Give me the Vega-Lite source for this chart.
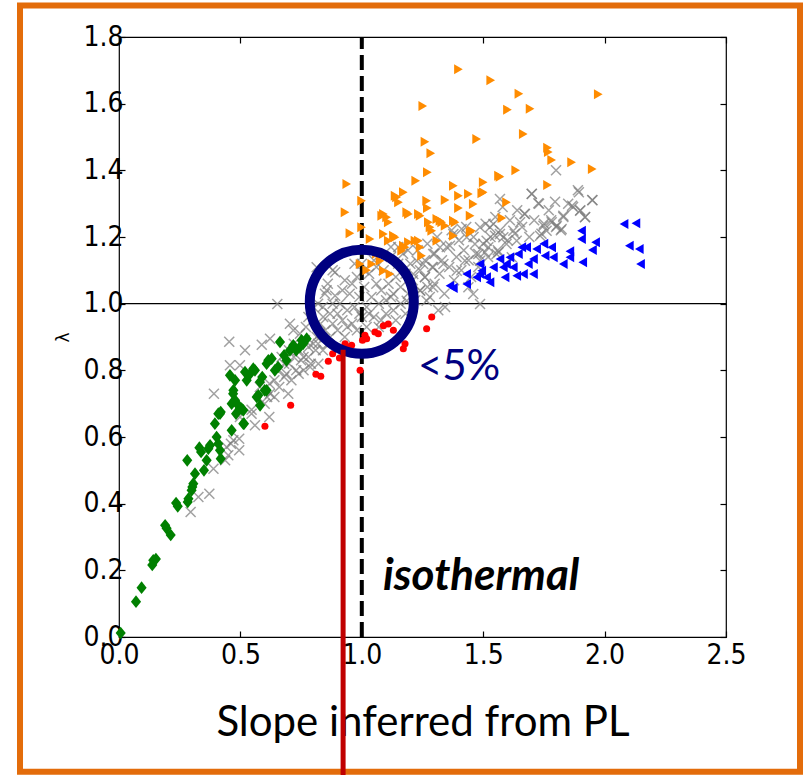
{
  "$schema": "https://vega.github.io/schema/vega-lite/v6.json",
  "width": 607,
  "height": 600,
  "autosize": "none",
  "padding": {"left": 119, "top": 37, "right": 77, "bottom": 138},
  "background": "white",
  "config": {
    "view": {"stroke": "black", "strokeWidth": 1.2},
    "axis": {"domain": false, "grid": false, "tickColor": "black", "labelColor": "black", "tickWidth": 1.2, "titleColor": "black", "labelFlush": false, "labelOverlap": false}
  },
  "resolve": {"axis": {"x": "independent", "y": "independent"}},
  "datasets": {
    "gray": [
      {"x":0.295,"y":0.375},{"x":0.327,"y":0.42},{"x":0.372,"y":0.43},{"x":0.389,"y":0.505},{"x":0.437,"y":0.53},{"x":0.45,"y":0.545},{"x":0.461,"y":0.58},{"x":0.495,"y":0.56},{"x":0.495,"y":0.595},{"x":0.443,"y":0.57},{"x":0.471,"y":0.59},{"x":0.546,"y":0.682},{"x":0.56,"y":0.635},{"x":0.498,"y":0.66},{"x":0.619,"y":0.66},{"x":0.622,"y":0.73},{"x":0.697,"y":0.73},{"x":0.391,"y":0.73},{"x":0.454,"y":0.886},{"x":0.519,"y":0.86},{"x":0.457,"y":0.815},{"x":0.498,"y":0.815},{"x":0.588,"y":0.877},{"x":0.622,"y":0.895},{"x":0.652,"y":0.999},{"x":0.546,"y":0.67},{"x":0.6,"y":0.7},{"x":0.58,"y":0.75},{"x":0.64,"y":0.72},{"x":0.66,"y":0.75},{"x":0.68,"y":0.78},{"x":0.69,"y":0.79},{"x":0.7,"y":0.82},{"x":0.72,"y":0.84},{"x":0.66,"y":0.8},{"x":0.64,"y":0.77},{"x":0.62,"y":0.76},{"x":0.61,"y":0.72},{"x":0.67,"y":0.84},{"x":0.7,"y":0.86},{"x":0.704,"y":0.94},{"x":0.718,"y":0.92},{"x":0.745,"y":0.91},{"x":0.766,"y":0.89},{"x":0.74,"y":0.86},{"x":0.76,"y":0.84},{"x":0.78,"y":0.87},{"x":0.79,"y":0.82},{"x":0.81,"y":0.86},{"x":0.821,"y":0.82},{"x":0.787,"y":0.81},{"x":0.8,"y":0.88},{"x":0.814,"y":0.9},{"x":0.828,"y":0.91},{"x":0.841,"y":0.96},{"x":0.869,"y":0.97},{"x":0.848,"y":1.03},{"x":0.89,"y":1.024},{"x":0.89,"y":1.094},{"x":0.814,"y":1.109},{"x":0.855,"y":1.04},{"x":0.83,"y":0.94},{"x":0.85,"y":0.92},{"x":0.86,"y":0.88},{"x":0.87,"y":0.9},{"x":0.88,"y":0.94},{"x":0.9,"y":0.92},{"x":0.9,"y":0.97},{"x":0.91,"y":1.0},{"x":0.92,"y":0.95},{"x":0.93,"y":0.9},{"x":0.94,"y":0.98},{"x":0.95,"y":1.03},{"x":0.96,"y":0.94},{"x":0.96,"y":1.06},{"x":0.97,"y":0.99},{"x":0.98,"y":0.92},{"x":0.98,"y":1.08},{"x":0.99,"y":1.02},{"x":1.0,"y":0.96},{"x":1.0,"y":1.12},{"x":1.01,"y":1.05},{"x":1.02,"y":0.99},{"x":1.02,"y":0.93},{"x":1.03,"y":1.09},{"x":1.04,"y":1.02},{"x":1.05,"y":0.96},{"x":1.05,"y":1.13},{"x":1.06,"y":1.06},{"x":1.07,"y":1.0},{"x":1.08,"y":1.04},{"x":1.08,"y":0.95},{"x":1.09,"y":1.1},{"x":1.1,"y":1.01},{"x":1.1,"y":0.97},{"x":1.11,"y":1.06},{"x":1.12,"y":1.14},{"x":1.13,"y":1.03},{"x":1.13,"y":0.98},{"x":1.14,"y":1.08},{"x":1.15,"y":1.12},{"x":1.16,"y":1.0},{"x":1.16,"y":1.05},{"x":1.17,"y":1.15},{"x":1.18,"y":1.09},{"x":1.18,"y":0.97},{"x":1.19,"y":1.03},{"x":1.2,"y":1.12},{"x":1.21,"y":1.07},{"x":1.22,"y":1.01},{"x":1.23,"y":1.16},{"x":1.24,"y":1.1},{"x":1.24,"y":1.04},{"x":1.26,"y":1.08},{"x":1.26,"y":1.13},{"x":1.27,"y":1.18},{"x":1.28,"y":1.02},{"x":1.29,"y":1.11},{"x":1.3,"y":1.15},{"x":1.3,"y":1.06},{"x":1.31,"y":1.2},{"x":1.32,"y":1.09},{"x":1.33,"y":1.13},{"x":1.34,"y":1.03},{"x":1.35,"y":1.17},{"x":1.36,"y":1.11},{"x":1.37,"y":1.22},{"x":1.38,"y":1.07},{"x":1.39,"y":1.14},{"x":1.4,"y":1.19},{"x":1.41,"y":1.1},{"x":1.42,"y":1.16},{"x":1.43,"y":1.23},{"x":1.44,"y":1.13},{"x":1.45,"y":1.08},{"x":1.46,"y":1.2},{"x":1.47,"y":1.15},{"x":1.48,"y":1.11},{"x":1.5,"y":1.18},{"x":1.51,"y":1.24},{"x":1.52,"y":1.14},{"x":1.53,"y":1.2},{"x":1.55,"y":1.26},{"x":1.56,"y":1.16},{"x":1.57,"y":1.22},{"x":1.58,"y":1.29},{"x":1.6,"y":1.19},{"x":1.61,"y":1.25},{"x":1.63,"y":1.21},{"x":1.64,"y":1.28},{"x":1.66,"y":1.23},{"x":1.67,"y":1.27},{"x":1.69,"y":1.2},{"x":1.7,"y":1.33},{"x":1.71,"y":1.25},{"x":1.73,"y":1.3},{"x":1.74,"y":1.21},{"x":1.75,"y":1.24},{"x":1.77,"y":1.28},{"x":1.78,"y":1.25},{"x":1.8,"y":1.23},{"x":1.8,"y":1.4},{"x":1.82,"y":1.22},{"x":1.83,"y":1.26},{"x":1.85,"y":1.3},{"x":1.87,"y":1.29},{"x":1.89,"y":1.34},{"x":1.9,"y":1.28},{"x":1.92,"y":1.26},{"x":1.95,"y":1.31},
      {"x":1.487,"y":0.999},{"x":1.343,"y":0.99},{"x":1.315,"y":0.98},{"x":1.459,"y":1.029},{"x":1.439,"y":1.049},{"x":1.267,"y":1.009},{"x":1.24,"y":1.039},{"x":1.185,"y":1.009},{"x":1.294,"y":1.049},{"x":1.391,"y":1.099},{"x":1.425,"y":1.129},{"x":1.212,"y":1.089},{"x":1.26,"y":1.079},{"x":1.226,"y":1.129},{"x":1.253,"y":1.119},{"x":1.294,"y":1.109},{"x":1.336,"y":1.119},{"x":1.294,"y":1.149},{"x":1.322,"y":1.169},{"x":1.363,"y":1.174},{"x":1.377,"y":1.209},{"x":1.411,"y":1.224},{"x":1.432,"y":1.199},{"x":1.48,"y":1.149},{"x":1.521,"y":1.169},{"x":1.466,"y":1.179},{"x":1.638,"y":1.189},{"x":1.624,"y":1.219},{"x":1.569,"y":1.209},{"x":1.542,"y":1.239},{"x":1.487,"y":1.229},{"x":1.672,"y":1.269},{"x":1.83,"y":1.264},{"x":1.796,"y":1.306},{"x":1.727,"y":1.301},{"x":1.7,"y":1.329},{"x":1.569,"y":1.314},{"x":1.894,"y":1.334},{"x":1.949,"y":1.311},{"x":1.866,"y":1.294},{"x":1.899,"y":1.279},{"x":1.919,"y":1.259},{"x":1.782,"y":1.244},{"x":1.803,"y":1.234},{"x":1.748,"y":1.234},{"x":1.823,"y":1.224},{"x":1.761,"y":1.219},{"x":1.734,"y":1.204},{"x":1.652,"y":1.244},{"x":1.583,"y":1.199},{"x":1.549,"y":1.204},{"x":1.528,"y":1.229},{"x":1.596,"y":1.179},{"x":1.514,"y":1.189},{"x":1.563,"y":1.154},{"x":1.507,"y":1.154},{"x":1.618,"y":1.139},{"x":1.487,"y":1.129},{"x":1.555,"y":1.149},
      {"x":0.72,"y":0.88},{"x":0.73,"y":0.8},{"x":0.75,"y":0.83},{"x":0.77,"y":0.93},{"x":0.78,"y":0.96},{"x":0.8,"y":0.99},{"x":0.82,"y":1.0},{"x":0.84,"y":0.99},{"x":0.86,"y":1.06},{"x":0.88,"y":1.0},{"x":0.92,"y":1.04},{"x":0.93,"y":1.07},{"x":0.94,"y":0.93},{"x":0.97,"y":1.12},{"x":0.99,"y":0.97},{"x":1.01,"y":1.1},{"x":1.03,"y":0.97},{"x":1.06,"y":1.11},{"x":1.07,"y":0.93},{"x":1.12,"y":1.02},{"x":1.14,"y":0.95},{"x":1.15,"y":1.17},{"x":1.19,"y":1.16},{"x":1.21,"y":0.99},{"x":1.27,"y":1.05},{"x":0.68,"y":0.82},{"x":0.71,"y":0.77},{"x":0.74,"y":0.79},{"x":0.76,"y":0.8},{"x":0.78,"y":0.84},{"x":0.82,"y":0.88},{"x":0.84,"y":0.86},{"x":0.88,"y":1.1},{"x":1.12,"y":1.17}
    ],
    "green": [
      {"x":0.007,"y":0.012},{"x":0.07,"y":0.106},{"x":0.093,"y":0.148},{"x":0.137,"y":0.216},{"x":0.141,"y":0.23},{"x":0.152,"y":0.234},{"x":0.19,"y":0.335},{"x":0.196,"y":0.326},{"x":0.213,"y":0.306},{"x":0.235,"y":0.402},{"x":0.242,"y":0.392},{"x":0.283,"y":0.405},{"x":0.286,"y":0.415},{"x":0.299,"y":0.44},{"x":0.302,"y":0.45},{"x":0.306,"y":0.46},{"x":0.281,"y":0.53},{"x":0.313,"y":0.49},{"x":0.331,"y":0.568},{"x":0.338,"y":0.555},{"x":0.35,"y":0.5},{"x":0.361,"y":0.53},{"x":0.368,"y":0.565},{"x":0.375,"y":0.575},{"x":0.402,"y":0.6},{"x":0.409,"y":0.58},{"x":0.416,"y":0.56},{"x":0.419,"y":0.535},{"x":0.395,"y":0.64},{"x":0.409,"y":0.67},{"x":0.419,"y":0.675},{"x":0.464,"y":0.62},{"x":0.464,"y":0.7},{"x":0.47,"y":0.73},{"x":0.482,"y":0.67},{"x":0.491,"y":0.695},{"x":0.498,"y":0.685},{"x":0.512,"y":0.68},{"x":0.515,"y":0.64},{"x":0.567,"y":0.72},{"x":0.581,"y":0.695},{"x":0.608,"y":0.74},{"x":0.478,"y":0.77},{"x":0.526,"y":0.77},{"x":0.58,"y":0.765},{"x":0.457,"y":0.785},{"x":0.519,"y":0.795},{"x":0.56,"y":0.8},{"x":0.608,"y":0.82},{"x":0.629,"y":0.835},{"x":0.663,"y":0.885},{"x":0.704,"y":0.86},{"x":0.718,"y":0.875},{"x":0.752,"y":0.89},{"x":0.759,"y":0.88},{"x":0.655,"y":0.81},{"x":0.642,"y":0.8},{"x":0.553,"y":0.805},{"x":0.615,"y":0.83},{"x":0.69,"y":0.83},{"x":0.745,"y":0.87},{"x":0.773,"y":0.895},{"x":0.478,"y":0.71},{"x":0.505,"y":0.685},{"x":0.574,"y":0.725},{"x":0.6,"y":0.74},{"x":0.416,"y":0.67},{"x":0.512,"y":0.64},{"x":0.471,"y":0.74},{"x":0.54,"y":0.79},{"x":0.59,"y":0.78},{"x":0.73,"y":0.86},{"x":0.68,"y":0.845}
    ],
    "red": [
      {"x":0.601,"y":0.632},{"x":0.707,"y":0.695},{"x":0.811,"y":0.788},{"x":0.831,"y":0.782},{"x":0.862,"y":0.827},{"x":0.908,"y":0.837},{"x":0.931,"y":0.88},{"x":0.958,"y":0.875},{"x":0.993,"y":0.8},{"x":1.003,"y":0.89},{"x":1.013,"y":0.905},{"x":1.02,"y":0.895},{"x":1.054,"y":0.915},{"x":1.068,"y":0.91},{"x":1.089,"y":0.934},{"x":1.109,"y":0.939},{"x":1.13,"y":0.92},{"x":1.171,"y":0.865},{"x":1.178,"y":0.88},{"x":1.267,"y":0.925},{"x":1.288,"y":0.96},{"x":0.88,"y":0.85},{"x":0.95,"y":0.87}
    ],
    "orange": [
      {"x":1.398,"y":1.703},{"x":1.531,"y":1.67},{"x":1.647,"y":1.63},{"x":1.974,"y":1.628},{"x":1.251,"y":1.593},{"x":1.6,"y":1.582},{"x":1.693,"y":1.585},{"x":1.473,"y":1.494},{"x":1.665,"y":1.509},{"x":1.26,"y":1.486},{"x":1.284,"y":1.451},{"x":1.765,"y":1.468},{"x":1.768,"y":1.455},{"x":1.782,"y":1.431},{"x":1.864,"y":1.424},{"x":1.949,"y":1.404},{"x":1.27,"y":1.394},{"x":1.222,"y":1.369},{"x":1.634,"y":1.4},{"x":1.569,"y":1.381},{"x":1.5,"y":1.364},{"x":1.377,"y":1.354},{"x":1.765,"y":1.356},{"x":1.171,"y":1.334},{"x":1.439,"y":1.329},{"x":1.494,"y":1.331},{"x":1.398,"y":1.324},{"x":1.267,"y":1.309},{"x":1.343,"y":1.311},{"x":1.596,"y":1.304},{"x":1.459,"y":1.299},{"x":1.27,"y":1.287},{"x":1.398,"y":1.287},{"x":1.185,"y":1.274},{"x":1.24,"y":1.264},{"x":1.446,"y":1.264},{"x":1.577,"y":1.257},{"x":1.377,"y":1.249},{"x":1.274,"y":1.244},{"x":1.309,"y":1.254},{"x":1.329,"y":1.244},{"x":1.343,"y":1.234},{"x":1.288,"y":1.219},{"x":1.452,"y":1.219},{"x":1.377,"y":1.204},{"x":1.219,"y":1.189},{"x":1.309,"y":1.189},{"x":1.24,"y":1.169},{"x":1.171,"y":1.174},{"x":1.246,"y":1.144},{"x":0.938,"y":1.359},{"x":0.999,"y":1.309},{"x":0.931,"y":1.274},{"x":0.951,"y":1.211},{"x":0.999,"y":1.229},{"x":1.089,"y":1.269},{"x":1.102,"y":1.259},{"x":1.143,"y":1.319},{"x":1.034,"y":1.194},{"x":1.089,"y":1.209},{"x":1.109,"y":1.189},{"x":1.137,"y":1.199},{"x":0.993,"y":1.119},{"x":1.041,"y":1.119},{"x":1.089,"y":1.099},{"x":1.116,"y":1.089},{"x":1.075,"y":1.129},{"x":1.137,"y":1.324},{"x":1.151,"y":1.304},{"x":1.082,"y":1.264},{"x":1.109,"y":1.244},{"x":1.192,"y":1.269},{"x":1.233,"y":1.269},{"x":1.322,"y":1.249},{"x":1.384,"y":1.244},{"x":1.13,"y":1.204},{"x":1.192,"y":1.184},{"x":1.233,"y":1.189},{"x":1.281,"y":1.229},{"x":1.164,"y":1.159},{"x":1.178,"y":1.169},{"x":1.446,"y":1.214},{"x":1.5,"y":1.334},{"x":1.563,"y":1.384},{"x":1.06,"y":1.15},{"x":1.02,"y":1.1}
    ],
    "blue": [
      {"x":2.08,"y":1.239},{"x":2.129,"y":1.241},{"x":2.102,"y":1.174},{"x":2.143,"y":1.164},{"x":2.148,"y":1.119},{"x":1.905,"y":1.219},{"x":1.905,"y":1.194},{"x":1.963,"y":1.184},{"x":1.95,"y":1.161},{"x":1.91,"y":1.124},{"x":1.857,"y":1.157},{"x":1.857,"y":1.139},{"x":1.83,"y":1.119},{"x":1.782,"y":1.169},{"x":1.789,"y":1.139},{"x":1.755,"y":1.144},{"x":1.72,"y":1.164},{"x":1.707,"y":1.134},{"x":1.679,"y":1.169},{"x":1.659,"y":1.169},{"x":1.645,"y":1.149},{"x":1.686,"y":1.119},{"x":1.707,"y":1.089},{"x":1.666,"y":1.089},{"x":1.638,"y":1.084},{"x":1.624,"y":1.109},{"x":1.596,"y":1.119},{"x":1.61,"y":1.139},{"x":1.583,"y":1.109},{"x":1.569,"y":1.134},{"x":1.59,"y":1.079},{"x":1.542,"y":1.109},{"x":1.528,"y":1.064},{"x":1.487,"y":1.119},{"x":1.487,"y":1.089},{"x":1.514,"y":1.079},{"x":1.473,"y":1.079},{"x":1.432,"y":1.089},{"x":1.432,"y":1.059},{"x":1.363,"y":1.054},{"x":1.377,"y":1.047},{"x":1.494,"y":1.099},{"x":1.75,"y":1.18}
    ]
  },
  "layer": [
    {
      "data": {"values": [{}]},
      "mark": {"type": "rect", "filled": false, "stroke": "#E36C0A", "strokeWidth": 6, "clip": false},
      "encoding": {
        "x": {"datum": -0.4077, "type": "quantitative", "scale": {"domain": [0, 2.5], "nice": false}, "axis": null},
        "x2": {"datum": 2.8048},
        "y": {"datum": 1.8943, "type": "quantitative", "scale": {"domain": [0, 1.8], "nice": false}, "axis": null},
        "y2": {"datum": -0.4043}
      }
    },
    {
      "data": {"values": [{}]},
      "mark": {"type": "rule", "color": "black", "strokeWidth": 1.2},
      "encoding": {
        "x": {"datum": 0, "type": "quantitative", "scale": {"domain": [0, 2.5], "nice": false},
          "axis": {"orient": "top", "values": [0, 0.5, 1, 1.5, 2, 2.5], "labels": false, "title": null, "tickSize": -6}},
        "x2": {"datum": 2.5},
        "y": {"datum": 1, "type": "quantitative", "scale": {"domain": [0, 1.8], "nice": false},
          "axis": {"orient": "right", "values": [0, 0.2, 0.4, 0.6, 0.8, 1.0, 1.2, 1.4, 1.6, 1.8], "labels": false, "title": null, "tickSize": -6}}
      }
    },
    {
      "data": {"name": "gray"},
      "mark": {"type": "point", "shape": "M-1,-1L1,1M1,-1L-1,1", "filled": false, "stroke": "#7a7a7a", "strokeWidth": 1.5, "size": 100},
      "encoding": {
        "x": {"field": "x", "type": "quantitative", "scale": {"domain": [0, 2.5], "nice": false},
          "axis": {"orient": "bottom", "values": [0, 0.5, 1, 1.5, 2, 2.5], "format": ".1f", "tickSize": -6,
            "labelFont": "DejaVu Sans Condensed", "labelFontSize": 28, "labelPadding": 10,
            "title": "Slope inferred from PL", "titleFont": "Lato", "titleFontSize": 42, "titleFontWeight": "normal", "titlePadding": 33}},
        "y": {"field": "y", "type": "quantitative", "scale": {"domain": [0, 1.8], "nice": false},
          "axis": {"orient": "left", "values": [0, 0.2, 0.4, 0.6, 0.8, 1.0, 1.2, 1.4, 1.6, 1.8], "format": ".1f", "tickSize": -6,
            "labelFont": "DejaVu Sans Condensed", "labelFontSize": 28, "labelPadding": 2,
            "title": "λ", "titleFont": "DejaVu Sans", "titleFontSize": 17, "titleFontWeight": "normal", "titlePadding": 10}}
      }
    },
    {
      "data": {"values": [{}]},
      "mark": {"type": "rule", "color": "black", "strokeWidth": 4, "strokeDash": [15, 6]},
      "encoding": {
        "x": {"datum": 1, "type": "quantitative", "scale": {"domain": [0, 2.5], "nice": false}, "axis": null},
        "y": {"datum": 0, "type": "quantitative", "scale": {"domain": [0, 1.8], "nice": false}, "axis": null},
        "y2": {"datum": 1.8}
      }
    },
    {
      "data": {"name": "green"},
      "mark": {"type": "point", "shape": "M0,-1L0.8,0L0,1L-0.8,0Z", "filled": true, "color": "#008000", "size": 160, "opacity": 1},
      "encoding": {
        "x": {"field": "x", "type": "quantitative", "scale": {"domain": [0, 2.5], "nice": false}, "axis": null},
        "y": {"field": "y", "type": "quantitative", "scale": {"domain": [0, 1.8], "nice": false}, "axis": null}
      }
    },
    {
      "data": {"name": "red"},
      "mark": {"type": "point", "shape": "circle", "filled": true, "color": "#FF0000", "size": 50, "opacity": 1},
      "encoding": {
        "x": {"field": "x", "type": "quantitative", "scale": {"domain": [0, 2.5], "nice": false}, "axis": null},
        "y": {"field": "y", "type": "quantitative", "scale": {"domain": [0, 1.8], "nice": false}, "axis": null}
      }
    },
    {
      "data": {"name": "orange"},
      "mark": {"type": "point", "shape": "triangle-right", "filled": true, "color": "#FF8C00", "size": 100, "opacity": 1},
      "encoding": {
        "x": {"field": "x", "type": "quantitative", "scale": {"domain": [0, 2.5], "nice": false}, "axis": null},
        "y": {"field": "y", "type": "quantitative", "scale": {"domain": [0, 1.8], "nice": false}, "axis": null}
      }
    },
    {
      "data": {"name": "blue"},
      "mark": {"type": "point", "shape": "triangle-left", "filled": true, "color": "#0000FF", "size": 100, "opacity": 1},
      "encoding": {
        "x": {"field": "x", "type": "quantitative", "scale": {"domain": [0, 2.5], "nice": false}, "axis": null},
        "y": {"field": "y", "type": "quantitative", "scale": {"domain": [0, 1.8], "nice": false}, "axis": null}
      }
    },
    {
      "data": {"values": [{}]},
      "mark": {"type": "point", "shape": "circle", "filled": false, "stroke": "#000080", "strokeWidth": 10, "size": 10816, "opacity": 1},
      "encoding": {
        "x": {"datum": 1.0, "type": "quantitative", "scale": {"domain": [0, 2.5], "nice": false}, "axis": null},
        "y": {"datum": 1.006, "type": "quantitative", "scale": {"domain": [0, 1.8], "nice": false}, "axis": null}
      }
    },
    {
      "data": {"values": [{}]},
      "mark": {"type": "rule", "color": "#C00000", "strokeWidth": 5, "clip": false},
      "encoding": {
        "x": {"datum": 0.923, "type": "quantitative", "scale": {"domain": [0, 2.5], "nice": false}, "axis": null},
        "y": {"datum": 0.862, "type": "quantitative", "scale": {"domain": [0, 1.8], "nice": false}, "axis": null},
        "y2": {"datum": -0.45}
      }
    },
    {
      "data": {"values": [{}]},
      "mark": {"type": "text", "text": "<5%", "font": "Lato", "fontSize": 42, "color": "#000080", "align": "left", "baseline": "alphabetic"},
      "encoding": {
        "x": {"datum": 1.231, "type": "quantitative", "scale": {"domain": [0, 2.5], "nice": false}, "axis": null},
        "y": {"datum": 0.77, "type": "quantitative", "scale": {"domain": [0, 1.8], "nice": false}, "axis": null}
      }
    },
    {
      "data": {"values": [{}]},
      "mark": {"type": "text", "text": "isothermal", "font": "Lato", "fontSize": 44, "fontWeight": "bold", "fontStyle": "italic", "color": "black", "align": "left", "baseline": "alphabetic"},
      "encoding": {
        "x": {"datum": 1.087, "type": "quantitative", "scale": {"domain": [0, 2.5], "nice": false}, "axis": null},
        "y": {"datum": 0.141, "type": "quantitative", "scale": {"domain": [0, 1.8], "nice": false}, "axis": null}
      }
    }
  ]
}
